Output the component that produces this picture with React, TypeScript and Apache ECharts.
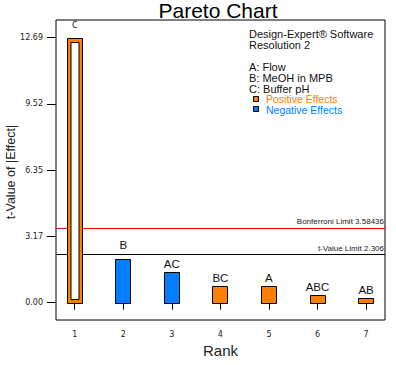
import React, { useEffect, useRef } from "react";
import * as echarts from "echarts";

const ranks = [1, 2, 3, 4, 5, 6, 7];
const effectLabels = ["C", "B", "AC", "BC", "A", "ABC", "AB"];
const tValues = [12.69, 2.08, 1.46, 0.79, 0.78, 0.36, 0.21];
const signs = [1, -1, -1, 1, 1, 1, 1];
const yTickValues = [0, 3.1725, 6.345, 9.5175, 12.69];
const yTickLabels = ["0.00", "3.17", "6.35", "9.52", "12.69"];
const xTickValues = [1, 2, 3, 4, 5, 6, 7];
const bonferroniLimit = 3.58436;
const tValueLimit = 2.306;
const infoLines = ["Design-Expert® Software", "Resolution 2", "", "A: Flow", "B: MeOH in MPB", "C: Buffer pH"];
const yAxisTitle = "t-Value of |Effect|";

const ORANGE = "#FF8000";
const BLUE = "#0080FF";
const FONT = "'Liberation Sans', Arial, sans-serif";

export default function App() {
  const ref = useRef<HTMLDivElement>(null);
  useEffect(() => {
    if (!ref.current) return;
    const chart = echarts.init(ref.current, null, { renderer: "svg" });
    const data = ranks.map((r, i) => [r, tValues[i], signs[i]]);
    const option: any = {
      animation: false,
      backgroundColor: "#fff",
      textStyle: { fontFamily: FONT },
      title: {
        text: "Pareto Chart",
        left: 218,
        top: 0,
        padding: 0,
        textAlign: "center",
        textStyle: { fontFamily: FONT, fontSize: 21, fontWeight: "normal", color: "#000" },
      },
      grid: {
        left: 56,
        top: 20,
        right: 11,
        bottom: 45,
        containLabel: false,
        outerBoundsMode: "none",
        show: true,
        borderColor: "#000",
        borderWidth: 1,
        backgroundColor: "transparent",
      },
      xAxis: {
        type: "value",
        min: 0.615,
        max: 7.39,
        name: "Rank",
        nameLocation: "middle",
        nameGap: 23,
        nameTextStyle: { fontFamily: FONT, fontSize: 15, color: "#222" },
        axisLine: { show: false },
        splitLine: { show: false },
        axisTick: { show: true, length: 7, customValues: xTickValues, lineStyle: { color: "#000", width: 1 } },
        axisLabel: {
          customValues: xTickValues,
          margin: 10,
          fontSize: 8,
          fontFamily: "'DejaVu Sans', sans-serif",
          color: "#222",
          formatter: (v: number) => String(Math.round(v)),
        },
      },
      yAxis: {
        type: "value",
        min: -0.828,
        max: 13.537,
        axisLine: { show: false },
        splitLine: { show: false },
        axisTick: { show: true, length: 9, customValues: yTickValues, lineStyle: { color: "#000", width: 1 } },
        axisLabel: {
          customValues: yTickValues,
          margin: 13,
          fontSize: 8,
          fontFamily: "'DejaVu Sans', sans-serif",
          color: "#222",
          formatter: (v: number) => {
            let best = 0;
            yTickValues.forEach((t, i) => {
              if (Math.abs(t - v) < Math.abs(yTickValues[best] - v)) best = i;
            });
            return yTickLabels[best];
          },
        },
      },
      series: [
        {
          type: "line",
          data: [],
          z: 1,
          silent: true,
          markLine: {
            silent: true,
            symbol: ["none", "none"],
            data: [
              {
                yAxis: bonferroniLimit,
                lineStyle: { color: "#FF0000", width: 1, type: "solid" },
                label: {
                  position: "insideEndTop",
                  formatter: "Bonferroni Limit " + bonferroniLimit,
                  fontSize: 8,
                  fontFamily: FONT,
                  color: "#222",
                  distance: [1, 2],
                },
              },
              {
                yAxis: tValueLimit,
                lineStyle: { color: "#000", width: 1, type: "solid" },
                label: {
                  position: "insideEndTop",
                  formatter: "t-Value Limit " + tValueLimit,
                  fontSize: 8,
                  fontFamily: FONT,
                  color: "#222",
                  distance: [1, 2],
                },
              },
            ],
          },
        },
        {
          type: "custom",
          z: 5,
          data,
          renderItem: (params: any, api: any) => {
            const x = api.value(0);
            const v = api.value(1);
            const s = api.value(2);
            const base = api.coord([x, 0]);
            const top = api.coord([x, v]);
            const lineY = api.coord([x, tValueLimit])[1];
            const w = 16;
            const color = s > 0 ? ORANGE : BLUE;
            const hollow = v > bonferroniLimit;
            const left = Math.round(base[0] - w / 2) + 0.5;
            const topY = Math.round(top[1]) + 0.5;
            const botY = Math.round(base[1]) + 0.5;
            const children: any[] = [
              {
                type: "rect",
                shape: { x: left, y: topY, width: w - 1, height: botY - topY },
                style: { fill: color, stroke: "#000", lineWidth: 1 },
              },
            ];
            if (hollow) {
              children.push({
                type: "rect",
                shape: { x: left + 3.5, y: topY + 4, width: w - 8, height: botY - topY - 8 },
                style: { fill: "#fff", stroke: "#000", lineWidth: 1 },
              });
            }
            let labelY = top[1] - (hollow ? 12 : 8);
            if (!hollow && Math.abs(labelY - lineY) < 7) labelY = lineY - 10;
            children.push({
              type: "text",
              x: base[0],
              y: labelY,
              style: {
                text: effectLabels[params.dataIndex],
                fill: "#111",
                fontSize: hollow ? 8 : 11.5,
                fontFamily: hollow ? "'DejaVu Sans', sans-serif" : FONT,
                align: "center",
                verticalAlign: "middle",
              },
            });
            return { type: "group", children };
          },
        },
      ],
      graphic: [
        {
          type: "text",
          x: 11,
          y: 172,
          rotation: Math.PI / 2,
          style: {
            text: yAxisTitle,
            fill: "#222",
            fontSize: 12.5,
            fontFamily: FONT,
            align: "center",
            verticalAlign: "middle",
          },
        },
        ...infoLines.map((t, i) => ({
          type: "text",
          left: 249,
          top: 28 + i * 11,
          style: { text: t, fill: "#111", fontSize: 11, fontFamily: FONT },
        })),
        {
          type: "rect",
          shape: { x: 253.5, y: 96.5, width: 5, height: 5 },
          style: { fill: ORANGE, stroke: "#000", lineWidth: 1 },
        },
        {
          type: "text",
          left: 266,
          top: 93.5,
          style: { text: "Positive Effects", fill: ORANGE, fontSize: 10.5, fontFamily: FONT },
        },
        {
          type: "rect",
          shape: { x: 253.5, y: 106.5, width: 5, height: 5 },
          style: { fill: BLUE, stroke: "#000", lineWidth: 1 },
        },
        {
          type: "text",
          left: 266,
          top: 104.5,
          style: { text: "Negative Effects", fill: BLUE, fontSize: 10.5, fontFamily: FONT },
        },
      ],
    };
    chart.setOption(option);
    return () => chart.dispose();
  }, []);
  return (
    <div
      ref={ref}
      style={{ position: "fixed", left: 0, top: 0, width: 396, height: 365, background: "#fff" }}
    />
  );
}
